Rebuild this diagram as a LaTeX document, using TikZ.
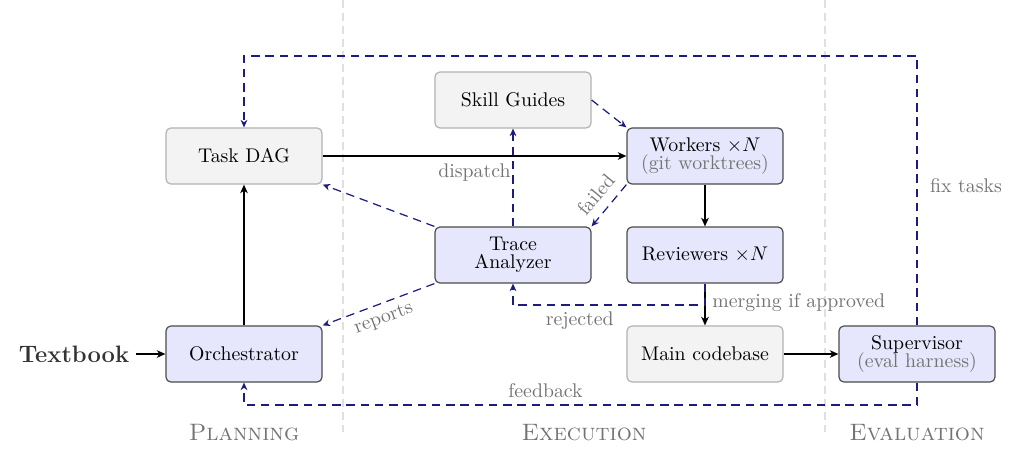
\documentclass[tikz,border=0pt]{standalone}
\usepackage{graphicx}
\usetikzlibrary{arrows.meta}
\definecolor{navyc}{HTML}{1C1C7E}
\definecolor{boxblue}{HTML}{E6E6FC}
\definecolor{boxgray}{HTML}{F3F3F3}
\begin{document}
\begin{tikzpicture}[x=0.505pt,y=-0.505pt,
 base/.style={rounded corners=2.5pt, minimum width=78.8pt, minimum height=28.3pt, align=center, line width=0.6pt, inner sep=2pt},
 agent/.style={base, fill=boxblue, draw=black!70},
 store/.style={base, fill=boxgray, draw=black!30},
 flow/.style={-{Stealth[length=4.3pt,width=3.8pt,inset=1.2pt]}, line width=0.72pt},
 loopln/.style={-{Stealth[length=3.8pt,width=3.4pt,inset=1.2pt]}, navyc, dash pattern=on 4.3pt off 2.9pt, line width=0.62pt},
 lbl/.style={text=black!55},
 sep/.style={black!12, dash pattern=on 4pt off 2.5pt, line width=0.6pt},
 phase/.style={text=black!55, font=\large\scshape}
]
\useasboundingbox (0,0) rectangle (1028,454);
% phase separators
\draw[sep] (343,0) -- (343,432);
\draw[sep] (825,0) -- (825,432);
% nodes
\node[store] (dag) at (244,156) {Task DAG};
\node[store] (skill) at (513,100) {Skill Guides};
\node[agent] (work) at (705,156) {Workers $\times N$\\[-3.2pt]{\color{black!55}(git worktrees)}};
\node[agent] (trace) at (513,255) {Trace\\[-3.2pt]Analyzer};
\node[agent] (rev) at (705,255) {Reviewers $\times N$};
\node[agent] (orch) at (244,354) {Orchestrator};
\node[store] (main) at (705,354) {Main codebase};
\node[agent] (sup) at (917,354) {Supervisor\\[-3.2pt]{\color{black!55}(eval harness)}};
\node[font=\large\bfseries, text=black!80] (book) at (74,354) {Textbook};
% phase labels
\node[phase] (plan) at (244,433) {Planning};
\node[phase] (exec) at (584,433) {Execution};
\node[phase] (eval) at (917,433) {Evaluation};
% coordinates for loops
\coordinate (tr) at (917,56);
\coordinate (br) at (917,405);
\coordinate (rj) at (705,305);
% solid flow
\draw[flow] (book) -- (orch);
\draw[flow] (orch) -- (dag);
\draw[flow] (dag) -- node[lbl, below, pos=0.5] {dispatch} (work);
\draw[flow] (work) -- (rev);
\draw[flow] (rev) -- node[lbl, right, pos=0.45] {merging if approved} (main);
\draw[flow] (main) -- (sup);
% dashed feedback loops
\draw[loopln] (sup.north) -- node[lbl, right, pos=0.52, xshift=3pt] {fix tasks} (tr) -| (dag.north);
\draw[loopln] (sup.south) -- (br) -| node[lbl, above, pos=0.276] {feedback} (orch.south);
\draw[loopln] (rev.south) -- (rj) -| node[lbl, below, pos=0.326] {rejected} (trace.south);
\draw[loopln] (skill.east) -- (work.north west);
\draw[loopln] (work.south west) -- node[lbl, sloped, above=1.5pt] {failed} (trace.north east);
\draw[loopln] (trace.north west) -- (dag.south east);
\draw[loopln] (trace.north) -- (skill.south);
\draw[loopln] (trace.south west) -- node[lbl, sloped, below] {reports} (orch.north east);
\end{tikzpicture}
\end{document}
